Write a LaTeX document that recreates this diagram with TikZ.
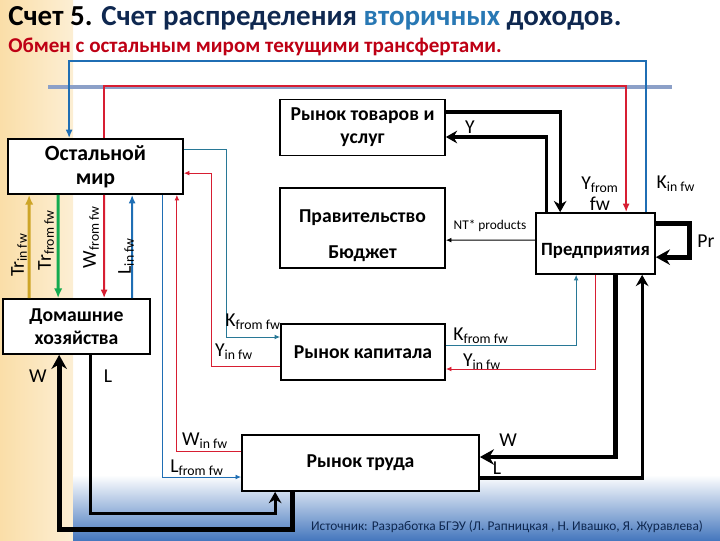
\documentclass[tikz,border=0pt]{standalone}
\usepackage{fontspec}
\setmainfont{Carlito}
\usepackage{tikz}
\usetikzlibrary{arrows.meta,calc}
\definecolor{TitleNavy}{RGB}{15,40,80}
\definecolor{TitleBlue}{RGB}{40,120,180}
\definecolor{SubRed}{RGB}{190,0,20}
\definecolor{FlowBlue}{RGB}{31,110,180}
\definecolor{FlowRed}{RGB}{215,30,50}
\definecolor{FlowTeal}{RGB}{40,120,150}
\definecolor{FlowGold}{RGB}{205,165,40}
\definecolor{FlowGreen}{RGB}{20,170,80}
\definecolor{BandBlue}{RGB}{140,160,200}
\definecolor{Peach}{RGB}{250,222,168}
\definecolor{SlideBlue}{RGB}{70,120,190}

\begin{document}
\begin{tikzpicture}[x=0.025cm,y=-0.025cm,
 block/.style={draw, line width=1.2pt, fill=white, align=center, inner sep=0pt, font=\bfseries\fontsize{14}{16.5}\selectfont},
 thinflow/.style={-{Latex[length=4pt,width=3.5pt]}, line width=0.7pt},
 midflow/.style={-{Latex[length=6pt,width=5pt]}, line width=1.5pt},
 heavyflow/.style={-{Stealth[length=8pt,width=9pt]}, line width=2.2pt},
 hugeflow/.style={-{Stealth[length=10pt,width=11pt]}, line width=3.5pt},
 lbl/.style={inner sep=0pt, font=\fontsize{14}{15}\selectfont},
 font=\small
]
\useasboundingbox (0,0) rectangle (720,540);
% slide background
\shade[left color=Peach, right color=Peach!50] (0,0) rectangle (73,540);
\shade[top color=white, bottom color=SlideBlue] (73,475) rectangle (720,540);

% title
\node[anchor=base west, inner sep=0pt, font=\bfseries\fontsize{20.6}{22}\selectfont] (title) at (8,25)
 {\color{black}Счет 5. \color{TitleNavy}Счет распределения \color{TitleBlue}вторичных \color{TitleNavy}доходов.};
\node[anchor=base west, inner sep=0pt, text=SubRed, font=\bfseries\fontsize{15}{16}\selectfont] (subtitle) at (8,52)
 {Обмен с остальным миром текущими трансфертами.};

% blocks
\node[block, minimum width=4.375cm, minimum height=1.375cm, font=\bfseries\fontsize{15.5}{17}\selectfont] (world) at (95.5,166.5) {Остальной\\мир};
\node[block, minimum width=3.675cm, minimum height=1.375cm] (house) at (76.5,326.5) {Домашние\\хозяйства};
\node[block, minimum width=4.125cm, minimum height=1.4cm] (goods) at (362.5,127.5) {Рынок товаров и\\услуг};
\node[block, minimum width=4.125cm, minimum height=2cm] (gov) at (362.5,228) {\rule{0pt}{20pt}Правительство\\[9pt]Бюджет};
\node[block, minimum width=2.975cm, minimum height=1.525cm, text height=1.9em, text depth=0.2em, font=\bfseries\fontsize{13.3}{15}\selectfont] (firms) at (595.5,243.5) {Предприятия};
\node[block, minimum width=4.1cm, minimum height=1.4cm] (capital) at (363,352) {Рынок капитала};
\node[block, minimum width=5.925cm, minimum height=1.4cm] (labour) at (360.5,463) {Рынок труда};

% flows over the top
\draw[BandBlue, line width=2.5pt] (48,87) -- (672,87);
\draw[midflow, FlowBlue] ($(firms.north east)+(-10,0)$) -- ++(0,-151) -| ($(world.north west)+(62,0)$);
\draw[midflow, FlowRed] ($(world.north west)+(97,0)$) -- ++(0,-52) -| ($(firms.north west)+(91,0)$);

% rest of world <-> households
\draw[heavyflow, FlowGold, -{Latex[length=7pt,width=6pt]}] ($(house.north west)+(27,0)$) -- ($(world.south west)+(22,0)$);
\draw[heavyflow, FlowGreen, -{Latex[length=7pt,width=6pt]}] ($(world.south west)+(51,0)$) -- ($(house.north west)+(56,0)$);
\draw[midflow, FlowRed] ($(world.south west)+(97,0)$) -- ($(house.north west)+(102,0)$);
\draw[midflow, FlowBlue] ($(house.north west)+(130,0)$) -- ($(world.south west)+(125,0)$);

% rest of world <-> markets
\draw[thinflow, FlowTeal] ($(world.north east)+(0,11)$) -- ++(43,0) |- ($(capital.west)+(0,-15)$);
\draw[thinflow, FlowRed] ($(capital.west)+(0,14)$) -- ++(-69,0) |- ($(world.north east)+(0,35)$);
\draw[thinflow, FlowRed] ($(labour.west)+(0,-12)$) -| ($(world.south east)+(-7,0)$);
\draw[thinflow, FlowBlue] ($(world.south east)+(-21,0)$) |- ($(labour.west)+(0,14)$);

% firms <-> capital and labour
\draw[thinflow, FlowTeal] ($(capital.east)+(0,-7)$) -| ($(firms.south west)+(41,0)$);
\draw[thinflow, FlowRed] ($(firms.south west)+(60,0)$) |- ($(capital.east)+(0,17)$);
\draw[hugeflow] ($(firms.south west)+(80,0)$) |- ($(labour.east)+(0,-6)$);
\draw[heavyflow] ($(labour.east)+(0,15)$) -| ($(firms.south west)+(107,0)$);

% goods, government, profit
\draw[heavyflow] ($(goods.east)+(0,-15.5)$) -| ($(firms.north west)+(25,0)$);
\draw[heavyflow] ($(firms.north west)+(11,0)$) |- ($(goods.east)+(0,9.5)$);
\draw[hugeflow] ($(firms.north east)+(0,11)$) -- ++(34,0) |- ($(firms.north east)+(0,45)$);
\draw[thinflow] ($(firms.north west)+(0,28)$) -- ($(gov.north east)+(0,53)$);

% labour market <-> households
\draw[hugeflow] ($(labour.south west)+(51,0)$) -- ++(0,38) -| ($(house.south west)+(57,0)$);
\draw[heavyflow] ($(house.south west)+(88,0)$) -- ++(0,159) -| ($(labour.south west)+(34,0)$);

% labels
\node[lbl, rotate=90] (trin) at (19,255) {Tr\textsubscript{in fw}};
\node[lbl, rotate=90] (trfrom) at (46,240) {Tr\textsubscript{from fw}};
\node[lbl, rotate=90] (wfrom) at (91,237) {W\textsubscript{from fw}};
\node[lbl, rotate=90] (lin) at (126,256) {L\textsubscript{in fw}};
\node[lbl] (yg) at (470,127) {Y};
\node[lbl, align=center] (yfrom) at (600,194) {Y\textsubscript{from}\\fw};
\node[lbl] (kin) at (676,184) {K\textsubscript{in fw}};
\node[lbl] (pr) at (706,241) {Pr};
\node[inner sep=0pt, font=\fontsize{9.5}{10}\selectfont] (nt) at (490,226) {NT* products};
\node[lbl] (wh) at (38,376) {W};
\node[lbl] (lh) at (108,376) {L};
\node[lbl] (kfl) at (253,322) {K\textsubscript{from fw}};
\node[lbl] (yil) at (234,352) {Y\textsubscript{in fw}};
\node[lbl] (wil) at (205,441) {W\textsubscript{in fw}};
\node[lbl] (lfl) at (197,468) {L\textsubscript{from fw}};
\node[lbl] (kfr) at (481,336) {K\textsubscript{from fw}};
\node[lbl] (yir) at (482,362) {Y\textsubscript{in fw}};
\node[lbl] (wr) at (508,440) {W};
\node[lbl] (lr) at (497,468) {L};
\node[inner sep=0pt, text=TitleNavy, font=\fontsize{9.5}{10}\selectfont] (source) at (507,527)
 {Источник: Разработка БГЭУ (Л. Рапницкая , Н. Ивашко, Я. Журавлева)};
\end{tikzpicture}
\end{document}
